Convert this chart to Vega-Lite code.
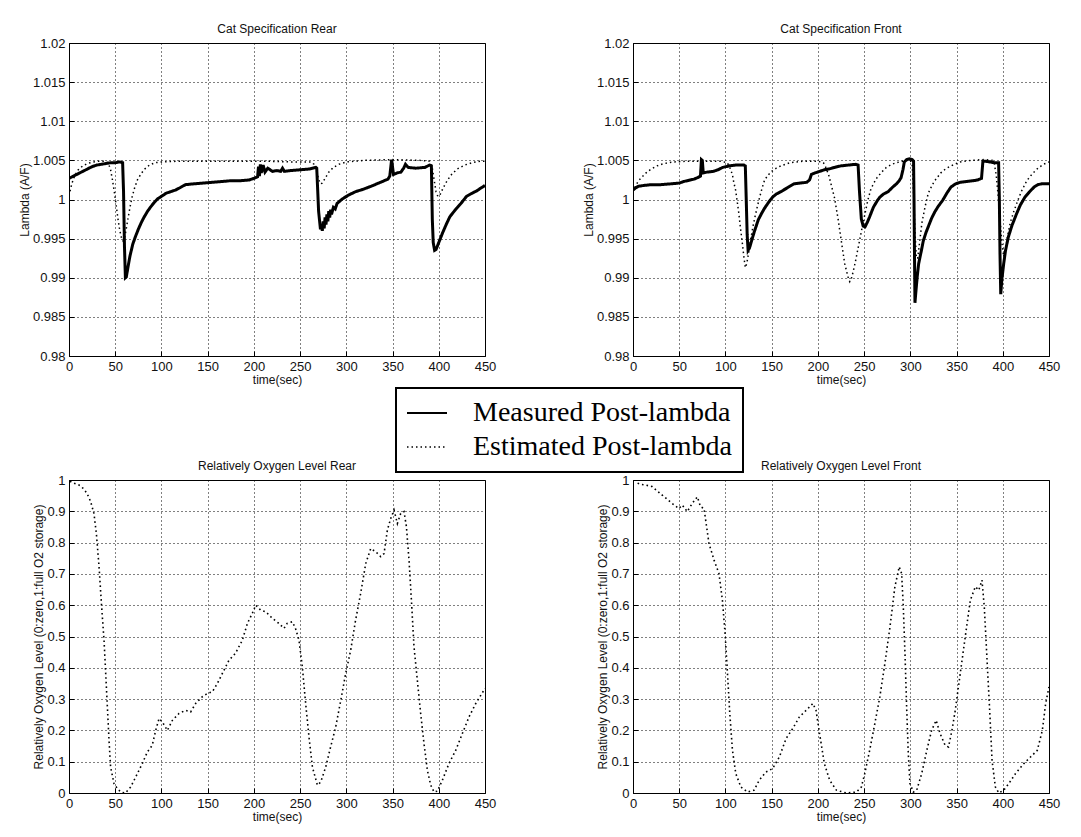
{
  "$schema": "https://vega.github.io/schema/vega-lite/v6.json",
  "background": "white",
  "padding": {"left": 17, "top": 22, "right": 4, "bottom": 4},
  "config": {
    "view": {"stroke": "black", "strokeWidth": 1},
    "font": "Liberation Sans",
    "axis": {
      "domain": false,
      "grid": true,
      "gridColor": "black",
      "gridDash": [1, 3],
      "gridWidth": 1,
      "gridOpacity": 1,
      "ticks": true,
      "tickColor": "black",
      "tickSize": -5,
      "labelFont": "Liberation Sans",
      "labelFontSize": 13,
      "labelColor": "#111",
      "labelPadding": 9,
      "labelFlush": false,
      "titleFont": "Liberation Sans",
      "titleFontSize": 12,
      "titleFontWeight": "normal",
      "titleColor": "#111",
      "titlePadding": 1
    },
    "title": {"font": "Liberation Sans", "fontSize": 12, "fontWeight": "normal", "color": "#111", "offset": 1, "anchor": "middle"}
  },
  "columns": 2,
  "spacing": {"row": 124, "column": 148},
  "bounds": "flush",
  "datasets": {
    "rear": [
      {"t": 0, "lambda": 1.0027, "series": "Measured Post-lambda"},
      {"t": 5, "lambda": 1.003, "series": "Measured Post-lambda"},
      {"t": 10, "lambda": 1.0033, "series": "Measured Post-lambda"},
      {"t": 15, "lambda": 1.0036, "series": "Measured Post-lambda"},
      {"t": 20, "lambda": 1.0039, "series": "Measured Post-lambda"},
      {"t": 25, "lambda": 1.0042, "series": "Measured Post-lambda"},
      {"t": 30, "lambda": 1.0044, "series": "Measured Post-lambda"},
      {"t": 35, "lambda": 1.0045, "series": "Measured Post-lambda"},
      {"t": 40, "lambda": 1.0046, "series": "Measured Post-lambda"},
      {"t": 45, "lambda": 1.0047, "series": "Measured Post-lambda"},
      {"t": 50, "lambda": 1.0047, "series": "Measured Post-lambda"},
      {"t": 55, "lambda": 1.0048, "series": "Measured Post-lambda"},
      {"t": 58, "lambda": 1.0047, "series": "Measured Post-lambda"},
      {"t": 59, "lambda": 1.001, "series": "Measured Post-lambda"},
      {"t": 60, "lambda": 0.994, "series": "Measured Post-lambda"},
      {"t": 61, "lambda": 0.99, "series": "Measured Post-lambda"},
      {"t": 62, "lambda": 0.9901, "series": "Measured Post-lambda"},
      {"t": 64, "lambda": 0.9915, "series": "Measured Post-lambda"},
      {"t": 66, "lambda": 0.9928, "series": "Measured Post-lambda"},
      {"t": 69, "lambda": 0.9943, "series": "Measured Post-lambda"},
      {"t": 72, "lambda": 0.9953, "series": "Measured Post-lambda"},
      {"t": 75, "lambda": 0.9962, "series": "Measured Post-lambda"},
      {"t": 78, "lambda": 0.997, "series": "Measured Post-lambda"},
      {"t": 81, "lambda": 0.9977, "series": "Measured Post-lambda"},
      {"t": 85, "lambda": 0.9985, "series": "Measured Post-lambda"},
      {"t": 88, "lambda": 0.999, "series": "Measured Post-lambda"},
      {"t": 92, "lambda": 0.9996, "series": "Measured Post-lambda"},
      {"t": 96, "lambda": 1.0001, "series": "Measured Post-lambda"},
      {"t": 100, "lambda": 1.0004, "series": "Measured Post-lambda"},
      {"t": 105, "lambda": 1.0008, "series": "Measured Post-lambda"},
      {"t": 110, "lambda": 1.001, "series": "Measured Post-lambda"},
      {"t": 115, "lambda": 1.0012, "series": "Measured Post-lambda"},
      {"t": 120, "lambda": 1.0015, "series": "Measured Post-lambda"},
      {"t": 126, "lambda": 1.0019, "series": "Measured Post-lambda"},
      {"t": 135, "lambda": 1.002, "series": "Measured Post-lambda"},
      {"t": 145, "lambda": 1.0021, "series": "Measured Post-lambda"},
      {"t": 155, "lambda": 1.0022, "series": "Measured Post-lambda"},
      {"t": 165, "lambda": 1.0023, "series": "Measured Post-lambda"},
      {"t": 175, "lambda": 1.0024, "series": "Measured Post-lambda"},
      {"t": 185, "lambda": 1.0024, "series": "Measured Post-lambda"},
      {"t": 195, "lambda": 1.0025, "series": "Measured Post-lambda"},
      {"t": 200, "lambda": 1.0027, "series": "Measured Post-lambda"},
      {"t": 204, "lambda": 1.0029, "series": "Measured Post-lambda"},
      {"t": 205, "lambda": 1.0042, "series": "Measured Post-lambda"},
      {"t": 206, "lambda": 1.003, "series": "Measured Post-lambda"},
      {"t": 207, "lambda": 1.0045, "series": "Measured Post-lambda"},
      {"t": 208, "lambda": 1.0034, "series": "Measured Post-lambda"},
      {"t": 210, "lambda": 1.0044, "series": "Measured Post-lambda"},
      {"t": 212, "lambda": 1.0035, "series": "Measured Post-lambda"},
      {"t": 215, "lambda": 1.004, "series": "Measured Post-lambda"},
      {"t": 220, "lambda": 1.0036, "series": "Measured Post-lambda"},
      {"t": 225, "lambda": 1.0037, "series": "Measured Post-lambda"},
      {"t": 229, "lambda": 1.0036, "series": "Measured Post-lambda"},
      {"t": 231, "lambda": 1.004, "series": "Measured Post-lambda"},
      {"t": 233, "lambda": 1.0036, "series": "Measured Post-lambda"},
      {"t": 240, "lambda": 1.0037, "series": "Measured Post-lambda"},
      {"t": 250, "lambda": 1.0038, "series": "Measured Post-lambda"},
      {"t": 260, "lambda": 1.0039, "series": "Measured Post-lambda"},
      {"t": 267, "lambda": 1.0041, "series": "Measured Post-lambda"},
      {"t": 268, "lambda": 1.004, "series": "Measured Post-lambda"},
      {"t": 270, "lambda": 0.9985, "series": "Measured Post-lambda"},
      {"t": 272, "lambda": 0.9962, "series": "Measured Post-lambda"},
      {"t": 273, "lambda": 0.9968, "series": "Measured Post-lambda"},
      {"t": 274, "lambda": 0.996, "series": "Measured Post-lambda"},
      {"t": 275, "lambda": 0.9972, "series": "Measured Post-lambda"},
      {"t": 276, "lambda": 0.9963, "series": "Measured Post-lambda"},
      {"t": 277, "lambda": 0.9977, "series": "Measured Post-lambda"},
      {"t": 278, "lambda": 0.9968, "series": "Measured Post-lambda"},
      {"t": 279, "lambda": 0.9981, "series": "Measured Post-lambda"},
      {"t": 280, "lambda": 0.9972, "series": "Measured Post-lambda"},
      {"t": 281, "lambda": 0.9985, "series": "Measured Post-lambda"},
      {"t": 282, "lambda": 0.9977, "series": "Measured Post-lambda"},
      {"t": 283, "lambda": 0.9987, "series": "Measured Post-lambda"},
      {"t": 284, "lambda": 0.9981, "series": "Measured Post-lambda"},
      {"t": 286, "lambda": 0.999, "series": "Measured Post-lambda"},
      {"t": 288, "lambda": 0.9988, "series": "Measured Post-lambda"},
      {"t": 290, "lambda": 0.9995, "series": "Measured Post-lambda"},
      {"t": 296, "lambda": 1.0001, "series": "Measured Post-lambda"},
      {"t": 303, "lambda": 1.0006, "series": "Measured Post-lambda"},
      {"t": 310, "lambda": 1.001, "series": "Measured Post-lambda"},
      {"t": 318, "lambda": 1.0013, "series": "Measured Post-lambda"},
      {"t": 327, "lambda": 1.0017, "series": "Measured Post-lambda"},
      {"t": 335, "lambda": 1.0021, "series": "Measured Post-lambda"},
      {"t": 345, "lambda": 1.0026, "series": "Measured Post-lambda"},
      {"t": 347, "lambda": 1.003, "series": "Measured Post-lambda"},
      {"t": 349, "lambda": 1.0051, "series": "Measured Post-lambda"},
      {"t": 351, "lambda": 1.0032, "series": "Measured Post-lambda"},
      {"t": 355, "lambda": 1.0034, "series": "Measured Post-lambda"},
      {"t": 359, "lambda": 1.0035, "series": "Measured Post-lambda"},
      {"t": 362, "lambda": 1.004, "series": "Measured Post-lambda"},
      {"t": 364, "lambda": 1.0045, "series": "Measured Post-lambda"},
      {"t": 367, "lambda": 1.0041, "series": "Measured Post-lambda"},
      {"t": 375, "lambda": 1.004, "series": "Measured Post-lambda"},
      {"t": 385, "lambda": 1.0041, "series": "Measured Post-lambda"},
      {"t": 390, "lambda": 1.0044, "series": "Measured Post-lambda"},
      {"t": 392, "lambda": 1.0043, "series": "Measured Post-lambda"},
      {"t": 393, "lambda": 0.9975, "series": "Measured Post-lambda"},
      {"t": 394, "lambda": 0.9945, "series": "Measured Post-lambda"},
      {"t": 395.5, "lambda": 0.9935, "series": "Measured Post-lambda"},
      {"t": 397, "lambda": 0.9936, "series": "Measured Post-lambda"},
      {"t": 400, "lambda": 0.9945, "series": "Measured Post-lambda"},
      {"t": 404, "lambda": 0.9957, "series": "Measured Post-lambda"},
      {"t": 408, "lambda": 0.9968, "series": "Measured Post-lambda"},
      {"t": 412, "lambda": 0.9978, "series": "Measured Post-lambda"},
      {"t": 418, "lambda": 0.9987, "series": "Measured Post-lambda"},
      {"t": 424, "lambda": 0.9995, "series": "Measured Post-lambda"},
      {"t": 430, "lambda": 1.0004, "series": "Measured Post-lambda"},
      {"t": 436, "lambda": 1.0008, "series": "Measured Post-lambda"},
      {"t": 441, "lambda": 1.0011, "series": "Measured Post-lambda"},
      {"t": 446, "lambda": 1.0015, "series": "Measured Post-lambda"},
      {"t": 450, "lambda": 1.0018, "series": "Measured Post-lambda"},
      {"t": 0, "lambda": 1.0005, "series": "Estimated Post-lambda"},
      {"t": 3, "lambda": 1.002, "series": "Estimated Post-lambda"},
      {"t": 6, "lambda": 1.003, "series": "Estimated Post-lambda"},
      {"t": 10, "lambda": 1.0038, "series": "Estimated Post-lambda"},
      {"t": 15, "lambda": 1.0043, "series": "Estimated Post-lambda"},
      {"t": 20, "lambda": 1.0046, "series": "Estimated Post-lambda"},
      {"t": 26, "lambda": 1.0048, "series": "Estimated Post-lambda"},
      {"t": 32, "lambda": 1.0049, "series": "Estimated Post-lambda"},
      {"t": 40, "lambda": 1.0049, "series": "Estimated Post-lambda"},
      {"t": 43, "lambda": 1.0045, "series": "Estimated Post-lambda"},
      {"t": 45, "lambda": 1.0038, "series": "Estimated Post-lambda"},
      {"t": 47, "lambda": 1.0025, "series": "Estimated Post-lambda"},
      {"t": 49, "lambda": 1.001, "series": "Estimated Post-lambda"},
      {"t": 51, "lambda": 0.9993, "series": "Estimated Post-lambda"},
      {"t": 53, "lambda": 0.9975, "series": "Estimated Post-lambda"},
      {"t": 55, "lambda": 0.996, "series": "Estimated Post-lambda"},
      {"t": 57, "lambda": 0.995, "series": "Estimated Post-lambda"},
      {"t": 58.5, "lambda": 0.9947, "series": "Estimated Post-lambda"},
      {"t": 60, "lambda": 0.995, "series": "Estimated Post-lambda"},
      {"t": 62, "lambda": 0.9963, "series": "Estimated Post-lambda"},
      {"t": 64, "lambda": 0.9977, "series": "Estimated Post-lambda"},
      {"t": 66, "lambda": 0.999, "series": "Estimated Post-lambda"},
      {"t": 68, "lambda": 1.0002, "series": "Estimated Post-lambda"},
      {"t": 71, "lambda": 1.0015, "series": "Estimated Post-lambda"},
      {"t": 74, "lambda": 1.0025, "series": "Estimated Post-lambda"},
      {"t": 78, "lambda": 1.0033, "series": "Estimated Post-lambda"},
      {"t": 82, "lambda": 1.0039, "series": "Estimated Post-lambda"},
      {"t": 87, "lambda": 1.0044, "series": "Estimated Post-lambda"},
      {"t": 93, "lambda": 1.0047, "series": "Estimated Post-lambda"},
      {"t": 100, "lambda": 1.0048, "series": "Estimated Post-lambda"},
      {"t": 120, "lambda": 1.0049, "series": "Estimated Post-lambda"},
      {"t": 150, "lambda": 1.0049, "series": "Estimated Post-lambda"},
      {"t": 180, "lambda": 1.0049, "series": "Estimated Post-lambda"},
      {"t": 210, "lambda": 1.0049, "series": "Estimated Post-lambda"},
      {"t": 240, "lambda": 1.0048, "series": "Estimated Post-lambda"},
      {"t": 262, "lambda": 1.0048, "series": "Estimated Post-lambda"},
      {"t": 265, "lambda": 1.0045, "series": "Estimated Post-lambda"},
      {"t": 268, "lambda": 1.0035, "series": "Estimated Post-lambda"},
      {"t": 270, "lambda": 1.0026, "series": "Estimated Post-lambda"},
      {"t": 272, "lambda": 1.002, "series": "Estimated Post-lambda"},
      {"t": 274, "lambda": 1.0021, "series": "Estimated Post-lambda"},
      {"t": 277, "lambda": 1.0027, "series": "Estimated Post-lambda"},
      {"t": 281, "lambda": 1.0035, "series": "Estimated Post-lambda"},
      {"t": 286, "lambda": 1.0041, "series": "Estimated Post-lambda"},
      {"t": 292, "lambda": 1.0045, "series": "Estimated Post-lambda"},
      {"t": 300, "lambda": 1.0048, "series": "Estimated Post-lambda"},
      {"t": 320, "lambda": 1.005, "series": "Estimated Post-lambda"},
      {"t": 350, "lambda": 1.0051, "series": "Estimated Post-lambda"},
      {"t": 380, "lambda": 1.005, "series": "Estimated Post-lambda"},
      {"t": 390, "lambda": 1.0049, "series": "Estimated Post-lambda"},
      {"t": 393, "lambda": 1.004, "series": "Estimated Post-lambda"},
      {"t": 395, "lambda": 1.0025, "series": "Estimated Post-lambda"},
      {"t": 397, "lambda": 1.001, "series": "Estimated Post-lambda"},
      {"t": 399, "lambda": 1.0004, "series": "Estimated Post-lambda"},
      {"t": 401, "lambda": 1.0005, "series": "Estimated Post-lambda"},
      {"t": 404, "lambda": 1.0013, "series": "Estimated Post-lambda"},
      {"t": 408, "lambda": 1.0022, "series": "Estimated Post-lambda"},
      {"t": 413, "lambda": 1.0031, "series": "Estimated Post-lambda"},
      {"t": 420, "lambda": 1.0039, "series": "Estimated Post-lambda"},
      {"t": 428, "lambda": 1.0044, "series": "Estimated Post-lambda"},
      {"t": 436, "lambda": 1.0047, "series": "Estimated Post-lambda"},
      {"t": 445, "lambda": 1.0049, "series": "Estimated Post-lambda"},
      {"t": 450, "lambda": 1.0049, "series": "Estimated Post-lambda"}
    ],
    "front": [
      {"t": 0, "lambda": 1.0012, "series": "Measured Post-lambda"},
      {"t": 3, "lambda": 1.0015, "series": "Measured Post-lambda"},
      {"t": 6, "lambda": 1.0017, "series": "Measured Post-lambda"},
      {"t": 12, "lambda": 1.0018, "series": "Measured Post-lambda"},
      {"t": 20, "lambda": 1.0019, "series": "Measured Post-lambda"},
      {"t": 30, "lambda": 1.0019, "series": "Measured Post-lambda"},
      {"t": 41, "lambda": 1.002, "series": "Measured Post-lambda"},
      {"t": 50, "lambda": 1.0021, "series": "Measured Post-lambda"},
      {"t": 55, "lambda": 1.0023, "series": "Measured Post-lambda"},
      {"t": 62, "lambda": 1.0025, "series": "Measured Post-lambda"},
      {"t": 66, "lambda": 1.0026, "series": "Measured Post-lambda"},
      {"t": 70, "lambda": 1.0028, "series": "Measured Post-lambda"},
      {"t": 73, "lambda": 1.003, "series": "Measured Post-lambda"},
      {"t": 74, "lambda": 1.0051, "series": "Measured Post-lambda"},
      {"t": 75, "lambda": 1.005, "series": "Measured Post-lambda"},
      {"t": 76, "lambda": 1.0034, "series": "Measured Post-lambda"},
      {"t": 80, "lambda": 1.0035, "series": "Measured Post-lambda"},
      {"t": 87, "lambda": 1.0036, "series": "Measured Post-lambda"},
      {"t": 92, "lambda": 1.0038, "series": "Measured Post-lambda"},
      {"t": 97, "lambda": 1.0041, "series": "Measured Post-lambda"},
      {"t": 104, "lambda": 1.0043, "series": "Measured Post-lambda"},
      {"t": 111, "lambda": 1.0044, "series": "Measured Post-lambda"},
      {"t": 120, "lambda": 1.0044, "series": "Measured Post-lambda"},
      {"t": 121.5, "lambda": 1.0043, "series": "Measured Post-lambda"},
      {"t": 122.5, "lambda": 1.0, "series": "Measured Post-lambda"},
      {"t": 123.5, "lambda": 0.9955, "series": "Measured Post-lambda"},
      {"t": 124.5, "lambda": 0.9935, "series": "Measured Post-lambda"},
      {"t": 126, "lambda": 0.9938, "series": "Measured Post-lambda"},
      {"t": 128.5, "lambda": 0.9948, "series": "Measured Post-lambda"},
      {"t": 131, "lambda": 0.9958, "series": "Measured Post-lambda"},
      {"t": 135.5, "lambda": 0.9974, "series": "Measured Post-lambda"},
      {"t": 139, "lambda": 0.9982, "series": "Measured Post-lambda"},
      {"t": 142.4, "lambda": 0.9989, "series": "Measured Post-lambda"},
      {"t": 147, "lambda": 0.9997, "series": "Measured Post-lambda"},
      {"t": 151, "lambda": 1.0003, "series": "Measured Post-lambda"},
      {"t": 155, "lambda": 1.0007, "series": "Measured Post-lambda"},
      {"t": 160, "lambda": 1.001, "series": "Measured Post-lambda"},
      {"t": 167, "lambda": 1.0015, "series": "Measured Post-lambda"},
      {"t": 174, "lambda": 1.002, "series": "Measured Post-lambda"},
      {"t": 181, "lambda": 1.0021, "series": "Measured Post-lambda"},
      {"t": 188, "lambda": 1.0022, "series": "Measured Post-lambda"},
      {"t": 191, "lambda": 1.0025, "series": "Measured Post-lambda"},
      {"t": 193, "lambda": 1.0032, "series": "Measured Post-lambda"},
      {"t": 197, "lambda": 1.0034, "series": "Measured Post-lambda"},
      {"t": 202, "lambda": 1.0036, "series": "Measured Post-lambda"},
      {"t": 207, "lambda": 1.0038, "series": "Measured Post-lambda"},
      {"t": 212, "lambda": 1.0039, "series": "Measured Post-lambda"},
      {"t": 218, "lambda": 1.0041, "series": "Measured Post-lambda"},
      {"t": 225, "lambda": 1.0043, "series": "Measured Post-lambda"},
      {"t": 233, "lambda": 1.0044, "series": "Measured Post-lambda"},
      {"t": 241, "lambda": 1.0045, "series": "Measured Post-lambda"},
      {"t": 243.5, "lambda": 1.0044, "series": "Measured Post-lambda"},
      {"t": 245, "lambda": 1.001, "series": "Measured Post-lambda"},
      {"t": 247, "lambda": 0.9975, "series": "Measured Post-lambda"},
      {"t": 249, "lambda": 0.9966, "series": "Measured Post-lambda"},
      {"t": 251, "lambda": 0.9965, "series": "Measured Post-lambda"},
      {"t": 253.5, "lambda": 0.9971, "series": "Measured Post-lambda"},
      {"t": 256, "lambda": 0.9978, "series": "Measured Post-lambda"},
      {"t": 260, "lambda": 0.999, "series": "Measured Post-lambda"},
      {"t": 264, "lambda": 0.9998, "series": "Measured Post-lambda"},
      {"t": 267, "lambda": 1.0003, "series": "Measured Post-lambda"},
      {"t": 271, "lambda": 1.0007, "series": "Measured Post-lambda"},
      {"t": 276, "lambda": 1.001, "series": "Measured Post-lambda"},
      {"t": 281, "lambda": 1.0016, "series": "Measured Post-lambda"},
      {"t": 285, "lambda": 1.002, "series": "Measured Post-lambda"},
      {"t": 288, "lambda": 1.0024, "series": "Measured Post-lambda"},
      {"t": 290, "lambda": 1.0028, "series": "Measured Post-lambda"},
      {"t": 292, "lambda": 1.0038, "series": "Measured Post-lambda"},
      {"t": 293.5, "lambda": 1.0048, "series": "Measured Post-lambda"},
      {"t": 296, "lambda": 1.0051, "series": "Measured Post-lambda"},
      {"t": 299, "lambda": 1.0052, "series": "Measured Post-lambda"},
      {"t": 302, "lambda": 1.0051, "series": "Measured Post-lambda"},
      {"t": 303.5, "lambda": 1.0049, "series": "Measured Post-lambda"},
      {"t": 304, "lambda": 1.0, "series": "Measured Post-lambda"},
      {"t": 304.5, "lambda": 0.993, "series": "Measured Post-lambda"},
      {"t": 305, "lambda": 0.9868, "series": "Measured Post-lambda"},
      {"t": 306, "lambda": 0.9882, "series": "Measured Post-lambda"},
      {"t": 307.5, "lambda": 0.9902, "series": "Measured Post-lambda"},
      {"t": 309, "lambda": 0.9918, "series": "Measured Post-lambda"},
      {"t": 312, "lambda": 0.9935, "series": "Measured Post-lambda"},
      {"t": 314, "lambda": 0.9947, "series": "Measured Post-lambda"},
      {"t": 317, "lambda": 0.9958, "series": "Measured Post-lambda"},
      {"t": 320, "lambda": 0.9967, "series": "Measured Post-lambda"},
      {"t": 323, "lambda": 0.9976, "series": "Measured Post-lambda"},
      {"t": 326.4, "lambda": 0.9984, "series": "Measured Post-lambda"},
      {"t": 330, "lambda": 0.9991, "series": "Measured Post-lambda"},
      {"t": 335, "lambda": 0.9999, "series": "Measured Post-lambda"},
      {"t": 340, "lambda": 1.0009, "series": "Measured Post-lambda"},
      {"t": 344, "lambda": 1.0016, "series": "Measured Post-lambda"},
      {"t": 349, "lambda": 1.002, "series": "Measured Post-lambda"},
      {"t": 354, "lambda": 1.0022, "series": "Measured Post-lambda"},
      {"t": 361, "lambda": 1.0023, "series": "Measured Post-lambda"},
      {"t": 368, "lambda": 1.0024, "series": "Measured Post-lambda"},
      {"t": 373, "lambda": 1.0025, "series": "Measured Post-lambda"},
      {"t": 377, "lambda": 1.0027, "series": "Measured Post-lambda"},
      {"t": 378.5, "lambda": 1.0049, "series": "Measured Post-lambda"},
      {"t": 381, "lambda": 1.0049, "series": "Measured Post-lambda"},
      {"t": 386, "lambda": 1.0048, "series": "Measured Post-lambda"},
      {"t": 391, "lambda": 1.0047, "series": "Measured Post-lambda"},
      {"t": 395.5, "lambda": 1.0047, "series": "Measured Post-lambda"},
      {"t": 396.3, "lambda": 1.0, "series": "Measured Post-lambda"},
      {"t": 397, "lambda": 0.993, "series": "Measured Post-lambda"},
      {"t": 397.8, "lambda": 0.9879, "series": "Measured Post-lambda"},
      {"t": 399, "lambda": 0.9898, "series": "Measured Post-lambda"},
      {"t": 401, "lambda": 0.9918, "series": "Measured Post-lambda"},
      {"t": 403, "lambda": 0.9935, "series": "Measured Post-lambda"},
      {"t": 406, "lambda": 0.9952, "series": "Measured Post-lambda"},
      {"t": 410, "lambda": 0.9967, "series": "Measured Post-lambda"},
      {"t": 415, "lambda": 0.9982, "series": "Measured Post-lambda"},
      {"t": 419, "lambda": 0.9993, "series": "Measured Post-lambda"},
      {"t": 424, "lambda": 1.0003, "series": "Measured Post-lambda"},
      {"t": 429, "lambda": 1.001, "series": "Measured Post-lambda"},
      {"t": 434, "lambda": 1.0016, "series": "Measured Post-lambda"},
      {"t": 438, "lambda": 1.0019, "series": "Measured Post-lambda"},
      {"t": 442, "lambda": 1.002, "series": "Measured Post-lambda"},
      {"t": 450, "lambda": 1.002, "series": "Measured Post-lambda"},
      {"t": 0, "lambda": 1.001, "series": "Estimated Post-lambda"},
      {"t": 3, "lambda": 1.0018, "series": "Estimated Post-lambda"},
      {"t": 6, "lambda": 1.0024, "series": "Estimated Post-lambda"},
      {"t": 10, "lambda": 1.0029, "series": "Estimated Post-lambda"},
      {"t": 15, "lambda": 1.0035, "series": "Estimated Post-lambda"},
      {"t": 20, "lambda": 1.0039, "series": "Estimated Post-lambda"},
      {"t": 26, "lambda": 1.0043, "series": "Estimated Post-lambda"},
      {"t": 31, "lambda": 1.0045, "series": "Estimated Post-lambda"},
      {"t": 38, "lambda": 1.0047, "series": "Estimated Post-lambda"},
      {"t": 45, "lambda": 1.0048, "series": "Estimated Post-lambda"},
      {"t": 60, "lambda": 1.0049, "series": "Estimated Post-lambda"},
      {"t": 80, "lambda": 1.0049, "series": "Estimated Post-lambda"},
      {"t": 95, "lambda": 1.0049, "series": "Estimated Post-lambda"},
      {"t": 102, "lambda": 1.0047, "series": "Estimated Post-lambda"},
      {"t": 105, "lambda": 1.004, "series": "Estimated Post-lambda"},
      {"t": 107.5, "lambda": 1.0032, "series": "Estimated Post-lambda"},
      {"t": 109, "lambda": 1.0022, "series": "Estimated Post-lambda"},
      {"t": 111, "lambda": 1.0012, "series": "Estimated Post-lambda"},
      {"t": 113, "lambda": 0.9995, "series": "Estimated Post-lambda"},
      {"t": 114.5, "lambda": 0.9982, "series": "Estimated Post-lambda"},
      {"t": 116, "lambda": 0.9966, "series": "Estimated Post-lambda"},
      {"t": 118, "lambda": 0.9947, "series": "Estimated Post-lambda"},
      {"t": 120, "lambda": 0.9926, "series": "Estimated Post-lambda"},
      {"t": 121.5, "lambda": 0.9913, "series": "Estimated Post-lambda"},
      {"t": 123, "lambda": 0.9918, "series": "Estimated Post-lambda"},
      {"t": 125, "lambda": 0.9931, "series": "Estimated Post-lambda"},
      {"t": 127, "lambda": 0.9947, "series": "Estimated Post-lambda"},
      {"t": 128.5, "lambda": 0.9957, "series": "Estimated Post-lambda"},
      {"t": 130, "lambda": 0.9967, "series": "Estimated Post-lambda"},
      {"t": 132, "lambda": 0.9978, "series": "Estimated Post-lambda"},
      {"t": 134.5, "lambda": 0.9991, "series": "Estimated Post-lambda"},
      {"t": 137, "lambda": 1.0003, "series": "Estimated Post-lambda"},
      {"t": 140, "lambda": 1.0016, "series": "Estimated Post-lambda"},
      {"t": 142.4, "lambda": 1.0025, "series": "Estimated Post-lambda"},
      {"t": 146, "lambda": 1.0031, "series": "Estimated Post-lambda"},
      {"t": 150, "lambda": 1.0036, "series": "Estimated Post-lambda"},
      {"t": 155, "lambda": 1.004, "series": "Estimated Post-lambda"},
      {"t": 160, "lambda": 1.0043, "series": "Estimated Post-lambda"},
      {"t": 170, "lambda": 1.0047, "series": "Estimated Post-lambda"},
      {"t": 184, "lambda": 1.0049, "series": "Estimated Post-lambda"},
      {"t": 200, "lambda": 1.0049, "series": "Estimated Post-lambda"},
      {"t": 206, "lambda": 1.0047, "series": "Estimated Post-lambda"},
      {"t": 209, "lambda": 1.004, "series": "Estimated Post-lambda"},
      {"t": 212, "lambda": 1.003, "series": "Estimated Post-lambda"},
      {"t": 215, "lambda": 1.0016, "series": "Estimated Post-lambda"},
      {"t": 218, "lambda": 1.0002, "series": "Estimated Post-lambda"},
      {"t": 222, "lambda": 0.9974, "series": "Estimated Post-lambda"},
      {"t": 225.7, "lambda": 0.9944, "series": "Estimated Post-lambda"},
      {"t": 229, "lambda": 0.9918, "series": "Estimated Post-lambda"},
      {"t": 232.6, "lambda": 0.9901, "series": "Estimated Post-lambda"},
      {"t": 234.5, "lambda": 0.9895, "series": "Estimated Post-lambda"},
      {"t": 236, "lambda": 0.9898, "series": "Estimated Post-lambda"},
      {"t": 238, "lambda": 0.9907, "series": "Estimated Post-lambda"},
      {"t": 240.5, "lambda": 0.992, "series": "Estimated Post-lambda"},
      {"t": 243, "lambda": 0.9935, "series": "Estimated Post-lambda"},
      {"t": 245.5, "lambda": 0.995, "series": "Estimated Post-lambda"},
      {"t": 248, "lambda": 0.9965, "series": "Estimated Post-lambda"},
      {"t": 251.7, "lambda": 0.9986, "series": "Estimated Post-lambda"},
      {"t": 254, "lambda": 0.9999, "series": "Estimated Post-lambda"},
      {"t": 257, "lambda": 1.0012, "series": "Estimated Post-lambda"},
      {"t": 260, "lambda": 1.002, "series": "Estimated Post-lambda"},
      {"t": 264, "lambda": 1.0028, "series": "Estimated Post-lambda"},
      {"t": 269, "lambda": 1.0035, "series": "Estimated Post-lambda"},
      {"t": 274, "lambda": 1.0041, "series": "Estimated Post-lambda"},
      {"t": 280, "lambda": 1.0045, "series": "Estimated Post-lambda"},
      {"t": 285, "lambda": 1.0047, "series": "Estimated Post-lambda"},
      {"t": 295, "lambda": 1.005, "series": "Estimated Post-lambda"},
      {"t": 300, "lambda": 1.005, "series": "Estimated Post-lambda"},
      {"t": 302, "lambda": 1.0044, "series": "Estimated Post-lambda"},
      {"t": 303.5, "lambda": 1.001, "series": "Estimated Post-lambda"},
      {"t": 305, "lambda": 0.996, "series": "Estimated Post-lambda"},
      {"t": 306.5, "lambda": 0.9925, "series": "Estimated Post-lambda"},
      {"t": 308, "lambda": 0.9925, "series": "Estimated Post-lambda"},
      {"t": 310, "lambda": 0.9945, "series": "Estimated Post-lambda"},
      {"t": 312.5, "lambda": 0.997, "series": "Estimated Post-lambda"},
      {"t": 316, "lambda": 0.9991, "series": "Estimated Post-lambda"},
      {"t": 319.4, "lambda": 1.0008, "series": "Estimated Post-lambda"},
      {"t": 323, "lambda": 1.0017, "series": "Estimated Post-lambda"},
      {"t": 326.4, "lambda": 1.0024, "series": "Estimated Post-lambda"},
      {"t": 333, "lambda": 1.0034, "series": "Estimated Post-lambda"},
      {"t": 338, "lambda": 1.0039, "series": "Estimated Post-lambda"},
      {"t": 344, "lambda": 1.0043, "series": "Estimated Post-lambda"},
      {"t": 354, "lambda": 1.0048, "series": "Estimated Post-lambda"},
      {"t": 365, "lambda": 1.005, "series": "Estimated Post-lambda"},
      {"t": 380, "lambda": 1.0051, "series": "Estimated Post-lambda"},
      {"t": 389, "lambda": 1.005, "series": "Estimated Post-lambda"},
      {"t": 391, "lambda": 1.0045, "series": "Estimated Post-lambda"},
      {"t": 393, "lambda": 1.003, "series": "Estimated Post-lambda"},
      {"t": 395, "lambda": 1.0005, "series": "Estimated Post-lambda"},
      {"t": 397, "lambda": 0.9975, "series": "Estimated Post-lambda"},
      {"t": 399, "lambda": 0.9945, "series": "Estimated Post-lambda"},
      {"t": 401, "lambda": 0.9927, "series": "Estimated Post-lambda"},
      {"t": 403, "lambda": 0.9935, "series": "Estimated Post-lambda"},
      {"t": 405, "lambda": 0.9952, "series": "Estimated Post-lambda"},
      {"t": 408, "lambda": 0.997, "series": "Estimated Post-lambda"},
      {"t": 412, "lambda": 0.9985, "series": "Estimated Post-lambda"},
      {"t": 416, "lambda": 0.9998, "series": "Estimated Post-lambda"},
      {"t": 420, "lambda": 1.001, "series": "Estimated Post-lambda"},
      {"t": 426, "lambda": 1.0024, "series": "Estimated Post-lambda"},
      {"t": 432, "lambda": 1.0033, "series": "Estimated Post-lambda"},
      {"t": 438, "lambda": 1.004, "series": "Estimated Post-lambda"},
      {"t": 444, "lambda": 1.0045, "series": "Estimated Post-lambda"},
      {"t": 450, "lambda": 1.0048, "series": "Estimated Post-lambda"}
    ],
    "o2rear": [
      {"t": 1, "level": 0.996}, {"t": 5, "level": 0.99}, {"t": 10.8, "level": 0.984}, {"t": 15, "level": 0.974},
      {"t": 18, "level": 0.963}, {"t": 21, "level": 0.948}, {"t": 23.4, "level": 0.931}, {"t": 27, "level": 0.893},
      {"t": 29.6, "level": 0.829}, {"t": 32.5, "level": 0.723}, {"t": 35.3, "level": 0.595}, {"t": 37.9, "level": 0.488},
      {"t": 39.7, "level": 0.382}, {"t": 41.5, "level": 0.275}, {"t": 43.3, "level": 0.168}, {"t": 45, "level": 0.083},
      {"t": 48.7, "level": 0.03}, {"t": 52.3, "level": 0.014}, {"t": 56, "level": 0.003}, {"t": 61, "level": 0.0},
      {"t": 66.7, "level": 0.019}, {"t": 74, "level": 0.062}, {"t": 79.3, "level": 0.094}, {"t": 84.7, "level": 0.131},
      {"t": 90, "level": 0.152}, {"t": 93.8, "level": 0.2}, {"t": 97.4, "level": 0.238}, {"t": 101, "level": 0.227},
      {"t": 106.4, "level": 0.2}, {"t": 111.8, "level": 0.232}, {"t": 119, "level": 0.254}, {"t": 126, "level": 0.264},
      {"t": 131.6, "level": 0.259}, {"t": 137, "level": 0.286}, {"t": 144, "level": 0.307}, {"t": 149.7, "level": 0.318},
      {"t": 155, "level": 0.323}, {"t": 160.5, "level": 0.35}, {"t": 165.9, "level": 0.382}, {"t": 173, "level": 0.424},
      {"t": 180, "level": 0.446}, {"t": 187.5, "level": 0.488}, {"t": 193, "level": 0.542}, {"t": 198.3, "level": 0.574},
      {"t": 202, "level": 0.6}, {"t": 207.4, "level": 0.584}, {"t": 212.8, "level": 0.579}, {"t": 220, "level": 0.558},
      {"t": 227, "level": 0.542}, {"t": 232.6, "level": 0.526}, {"t": 236, "level": 0.542}, {"t": 241.6, "level": 0.547},
      {"t": 245, "level": 0.526}, {"t": 248.8, "level": 0.488}, {"t": 252.4, "level": 0.403}, {"t": 256, "level": 0.286},
      {"t": 259.6, "level": 0.179}, {"t": 263.3, "level": 0.083}, {"t": 268.7, "level": 0.025}, {"t": 272.3, "level": 0.035},
      {"t": 277.7, "level": 0.083}, {"t": 283, "level": 0.147}, {"t": 288.5, "level": 0.211}, {"t": 294, "level": 0.296},
      {"t": 299.3, "level": 0.382}, {"t": 304.7, "level": 0.456}, {"t": 310, "level": 0.552}, {"t": 315.5, "level": 0.638},
      {"t": 321, "level": 0.733}, {"t": 326.4, "level": 0.781}, {"t": 331.8, "level": 0.771}, {"t": 337.2, "level": 0.755},
      {"t": 340.8, "level": 0.765}, {"t": 344.4, "level": 0.84}, {"t": 348, "level": 0.877}, {"t": 351.6, "level": 0.904},
      {"t": 355.2, "level": 0.861}, {"t": 358.8, "level": 0.893}, {"t": 362.4, "level": 0.899}, {"t": 365, "level": 0.851},
      {"t": 367.8, "level": 0.744}, {"t": 370.4, "level": 0.616}, {"t": 373.2, "level": 0.467}, {"t": 376.8, "level": 0.36},
      {"t": 380.4, "level": 0.254}, {"t": 384, "level": 0.158}, {"t": 387.7, "level": 0.072}, {"t": 391.3, "level": 0.025},
      {"t": 394.9, "level": 0.003}, {"t": 398.5, "level": 0.006}, {"t": 403.9, "level": 0.041}, {"t": 411, "level": 0.094},
      {"t": 418.3, "level": 0.136}, {"t": 425.5, "level": 0.19}, {"t": 432.7, "level": 0.243}, {"t": 440, "level": 0.286},
      {"t": 450, "level": 0.334}
    ],
    "o2front": [
      {"t": 5, "level": 0.99}, {"t": 8, "level": 0.986}, {"t": 13.4, "level": 0.984}, {"t": 20.6, "level": 0.979},
      {"t": 31.5, "level": 0.952}, {"t": 42.4, "level": 0.925}, {"t": 49.6, "level": 0.909}, {"t": 53.3, "level": 0.92},
      {"t": 58.7, "level": 0.899}, {"t": 64, "level": 0.925}, {"t": 69.6, "level": 0.946}, {"t": 73, "level": 0.915},
      {"t": 76.8, "level": 0.909}, {"t": 78.6, "level": 0.872}, {"t": 82.2, "level": 0.797}, {"t": 87.7, "level": 0.744},
      {"t": 93, "level": 0.701}, {"t": 96.7, "level": 0.616}, {"t": 99.6, "level": 0.51}, {"t": 102.2, "level": 0.382},
      {"t": 104.7, "level": 0.254}, {"t": 107.6, "level": 0.136}, {"t": 111.2, "level": 0.062}, {"t": 116.7, "level": 0.019},
      {"t": 124, "level": 0.003}, {"t": 131, "level": 0.009}, {"t": 136.6, "level": 0.041}, {"t": 143.8, "level": 0.067},
      {"t": 151, "level": 0.078}, {"t": 158.3, "level": 0.115}, {"t": 165.6, "level": 0.174}, {"t": 172.8, "level": 0.206},
      {"t": 180, "level": 0.243}, {"t": 187.3, "level": 0.264}, {"t": 194.6, "level": 0.286}, {"t": 198, "level": 0.264},
      {"t": 201.8, "level": 0.19}, {"t": 207, "level": 0.094}, {"t": 212.7, "level": 0.041}, {"t": 220, "level": 0.009},
      {"t": 230.8, "level": 0.0}, {"t": 241.7, "level": 0.003}, {"t": 247, "level": 0.019}, {"t": 250.7, "level": 0.062},
      {"t": 256, "level": 0.136}, {"t": 261.6, "level": 0.222}, {"t": 267, "level": 0.307}, {"t": 272.5, "level": 0.414},
      {"t": 278, "level": 0.531}, {"t": 283.3, "level": 0.659}, {"t": 288, "level": 0.723}, {"t": 290.6, "level": 0.701},
      {"t": 292.4, "level": 0.595}, {"t": 294.2, "level": 0.446}, {"t": 296, "level": 0.275}, {"t": 297.8, "level": 0.126},
      {"t": 299.6, "level": 0.03}, {"t": 303.3, "level": 0.003}, {"t": 306.9, "level": 0.009}, {"t": 312.3, "level": 0.062},
      {"t": 317.8, "level": 0.136}, {"t": 323, "level": 0.2}, {"t": 327.9, "level": 0.232}, {"t": 332.2, "level": 0.19},
      {"t": 337.7, "level": 0.152}, {"t": 341.3, "level": 0.147}, {"t": 345, "level": 0.2}, {"t": 348.6, "level": 0.264},
      {"t": 354, "level": 0.382}, {"t": 359.4, "level": 0.499}, {"t": 364.9, "level": 0.616}, {"t": 370.3, "level": 0.659},
      {"t": 374, "level": 0.648}, {"t": 377.5, "level": 0.68}, {"t": 380, "level": 0.595}, {"t": 383, "level": 0.424},
      {"t": 386, "level": 0.254}, {"t": 388.4, "level": 0.104}, {"t": 392, "level": 0.019}, {"t": 395.7, "level": 0.0},
      {"t": 401, "level": 0.009}, {"t": 406.5, "level": 0.03}, {"t": 413.8, "level": 0.062}, {"t": 422.8, "level": 0.094},
      {"t": 430, "level": 0.115}, {"t": 437.3, "level": 0.136}, {"t": 442.8, "level": 0.2}, {"t": 446.4, "level": 0.286},
      {"t": 450, "level": 0.339}
    ]
  },
  "concat": [
    {
      "title": "Cat Specification Rear",
      "width": 416,
      "height": 313,
      "data": {"name": "rear"},
      "mark": {"type": "line", "color": "black", "clip": true},
      "encoding": {
        "x": {"field": "t", "type": "quantitative", "title": "time(sec)",
              "scale": {"domain": [0, 450], "nice": false, "zero": false},
              "axis": {"values": [0, 50, 100, 150, 200, 250, 300, 350, 400, 450]}},
        "y": {"field": "lambda", "type": "quantitative", "title": "Lambda (A/F)",
              "scale": {"domain": [0.98, 1.02], "nice": false, "zero": false},
              "axis": {"values": [0.98, 0.985, 0.99, 0.995, 1, 1.005, 1.01, 1.015, 1.02], "format": "~g"}},
        "strokeDash": {"field": "series", "type": "nominal",
              "scale": {"domain": ["Measured Post-lambda", "Estimated Post-lambda"], "range": [[1, 0], [1.5, 3]]},
              "legend": {
                "title": null, "orient": "none", "legendX": 327, "legendY": 345,
                "fillColor": "white", "strokeColor": "black", "padding": 11,
                "labelFont": "Liberation Serif", "labelFontSize": 28, "labelColor": "black", "labelLimit": 500,
                "labelOffset": 32, "rowPadding": 6, "symbolOffset": 6,
                "symbolType": "stroke", "symbolSize": 1600, "symbolStrokeColor": "black",
                "encode": {
                  "legend": {"update": {"strokeWidth": {"value": 2}}},
                  "symbols": {"update": {"strokeWidth": {"signal": "datum.value === 'Measured Post-lambda' ? 2 : 1.3"}}}
                }
              }},
        "strokeWidth": {"condition": {"test": "datum.series === 'Measured Post-lambda'", "value": 3}, "value": 1.5}
      }
    },
    {
      "title": "Cat Specification Front",
      "width": 416,
      "height": 313,
      "data": {"name": "front"},
      "mark": {"type": "line", "color": "black", "clip": true},
      "encoding": {
        "x": {"field": "t", "type": "quantitative", "title": "time(sec)",
              "scale": {"domain": [0, 450], "nice": false, "zero": false},
              "axis": {"values": [0, 50, 100, 150, 200, 250, 300, 350, 400, 450]}},
        "y": {"field": "lambda", "type": "quantitative", "title": "Lambda (A/F)",
              "scale": {"domain": [0.98, 1.02], "nice": false, "zero": false},
              "axis": {"values": [0.98, 0.985, 0.99, 0.995, 1, 1.005, 1.01, 1.015, 1.02], "format": "~g"}},
        "strokeDash": {"field": "series", "type": "nominal",
              "scale": {"domain": ["Measured Post-lambda", "Estimated Post-lambda"], "range": [[1, 0], [1.5, 3]]},
              "legend": null},
        "strokeWidth": {"condition": {"test": "datum.series === 'Measured Post-lambda'", "value": 3}, "value": 1.5}
      }
    },
    {
      "title": "Relatively Oxygen Level Rear",
      "width": 416,
      "height": 313,
      "data": {"name": "o2rear"},
      "mark": {"type": "line", "color": "black", "strokeWidth": 1.6, "strokeDash": [1.6, 3], "clip": true},
      "encoding": {
        "x": {"field": "t", "type": "quantitative", "title": "time(sec)",
              "scale": {"domain": [0, 450], "nice": false, "zero": false},
              "axis": {"values": [0, 50, 100, 150, 200, 250, 300, 350, 400, 450]}},
        "y": {"field": "level", "type": "quantitative", "title": "Relatively Oxygen Level (0:zero,1:full O2 storage)",
              "scale": {"domain": [0, 1], "nice": false},
              "axis": {"values": [0, 0.1, 0.2, 0.3, 0.4, 0.5, 0.6, 0.7, 0.8, 0.9, 1], "format": "~g"}}
      }
    },
    {
      "title": "Relatively Oxygen Level Front",
      "width": 416,
      "height": 313,
      "data": {"name": "o2front"},
      "mark": {"type": "line", "color": "black", "strokeWidth": 1.6, "strokeDash": [1.6, 3], "clip": true},
      "encoding": {
        "x": {"field": "t", "type": "quantitative", "title": "time(sec)",
              "scale": {"domain": [0, 450], "nice": false, "zero": false},
              "axis": {"values": [0, 50, 100, 150, 200, 250, 300, 350, 400, 450]}},
        "y": {"field": "level", "type": "quantitative", "title": "Relatively Oxygen Level (0:zero,1:full O2 storage)",
              "scale": {"domain": [0, 1], "nice": false},
              "axis": {"values": [0, 0.1, 0.2, 0.3, 0.4, 0.5, 0.6, 0.7, 0.8, 0.9, 1], "format": "~g"}}
      }
    }
  ]
}
